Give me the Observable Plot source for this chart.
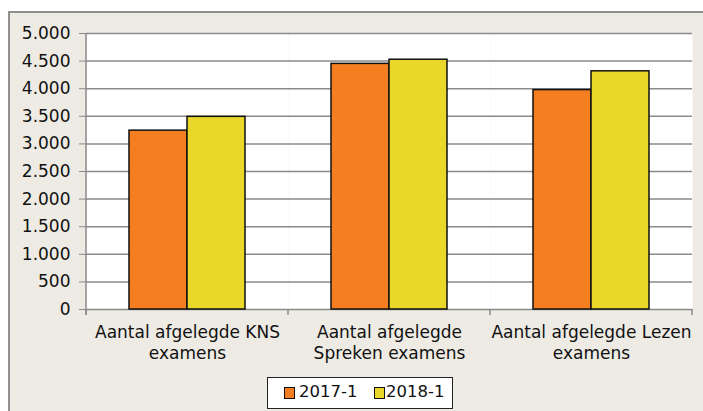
<!DOCTYPE html>
<html><head><meta charset="utf-8">
<script src="https://cdn.jsdelivr.net/npm/d3@7"></script>
<script src="https://cdn.jsdelivr.net/npm/@observablehq/plot@0.6"></script>
<style>
body{margin:0;background:#fff;}
#wrap{position:relative;width:703px;height:411px;overflow:hidden;font-family:"DejaVu Sans",sans-serif;color:#111;}
#panel{position:absolute;left:8px;top:11px;width:720px;height:430px;background:#EEEBE4;border-top:2px solid #8f8f8f;border-left:2px solid #8f8f8f;}
#chart{position:absolute;left:0;top:0;}
#legend{position:absolute;left:267px;top:377px;width:184px;height:30px;background:#fff;border:1.5px solid #222;}
.sw{position:absolute;top:9px;width:9px;height:10px;border:1px solid #111;}
.lt{position:absolute;top:5px;font-size:16.5px;line-height:18px;}
</style></head>
<body>
<div id="wrap"><div id="panel"></div><div id="chart"></div><div id="legend"></div></div>
<script>
const categories = ["KNS", "Spreken", "Lezen"];
const categoryLabels = ["Aantal afgelegde KNS\nexamens", "Aantal afgelegde\nSpreken examens", "Aantal afgelegde Lezen\nexamens"];
const series = ["2017-1", "2018-1"];
const values2017 = [3240, 4450, 3975];
const values2018 = [3490, 4525, 4315];
const yTicks = [0, 500, 1000, 1500, 2000, 2500, 3000, 3500, 4000, 4500, 5000];
const colors = ["#F47E20", "#E9D82A"];

const data = categories.flatMap((c, i) => [
  {cat: c, s: series[0], v: values2017[i]},
  {cat: c, s: series[1], v: values2018[i]}
]);
const nl = d3.formatLocale({decimal: ",", thousands: ".", grouping: [3], currency: ["€", ""]});
const fmt = nl.format(",");
const gridColor = "#8a8a8a";

const chart = Plot.plot({
  width: 703, height: 375,
  marginLeft: 86, marginRight: 11, marginTop: 33, marginBottom: 66,
  style: {background: "transparent", fontFamily: "DejaVu Sans, sans-serif", fontSize: "17px", color: "#111", overflow: "visible"},
  fx: {domain: categories, padding: 0, label: null},
  x: {domain: series, paddingInner: 0, paddingOuter: 0.741, axis: null},
  y: {domain: [0, 5000], label: null},
  color: {domain: series, range: colors},
  marks: [
    Plot.frame({fill: "white", stroke: null}),
    Plot.gridY(yTicks, {stroke: gridColor, strokeOpacity: 1, strokeWidth: 1.5}),
    Plot.barY(data, {fx: "cat", x: "s", y: "v", fill: "s", stroke: "#111", strokeWidth: 1.5}),
    Plot.axisY(yTicks, {tickSize: 7, tickPadding: 9, tickFormat: fmt, stroke: gridColor, fill: "#111", label: null, fontSize: 17}),
    Plot.axisFx({anchor: "bottom", tickSize: 0, tickPadding: 13, tickFormat: d => categoryLabels[categories.indexOf(d)], lineHeight: 1.25, label: null, fontSize: 17, fill: "#111"})
  ]
});
document.getElementById("chart").appendChild(chart);

// axis line and category boundary ticks from the plot's own scales
const fxS = chart.scale("fx"), yS = chart.scale("y");
const xr = fxS && fxS.range ? fxS.range : [86, 692];
const n = categories.length;
const step = (xr[1] - xr[0]) / n;
const yBase = yS.apply ? yS.apply(0) : yS.range[0];
const yTop = yS.apply ? yS.apply(5000) : yS.range[1];
const g = d3.select(chart).append("g").attr("stroke", gridColor).attr("stroke-width", 1.5);
g.append("line").attr("x1", xr[0]).attr("x2", xr[0]).attr("y1", yTop).attr("y2", yBase + 6);
d3.range(n + 1).forEach(i => {
  const x = xr[0] + i * step;
  g.append("line").attr("x1", x).attr("x2", x).attr("y1", yBase).attr("y2", yBase + 6);
});

// legend
const lg = d3.select("#legend");
const offs = [[16, 31], [106, 118]];
series.forEach((s, i) => {
  lg.append("div").attr("class", "sw").style("left", offs[i][0] + "px").style("background", colors[i]);
  lg.append("div").attr("class", "lt").style("left", offs[i][1] + "px").text(s);
});
</script>
</body></html>
